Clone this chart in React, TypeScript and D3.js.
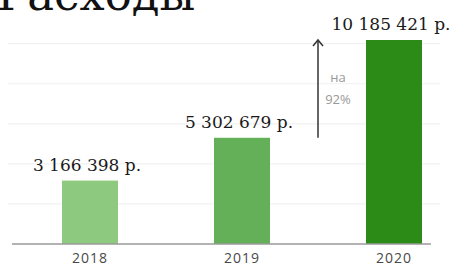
import React from "react";
import * as d3 from "d3";

const years = ["2018", "2019", "2020"];
const values = [3166398, 5302679, 10185421];
const valueLabels = ["3 166 398 р.", "5 302 679 р.", "10 185 421 р."];
const barColors = ["#8dca7f", "#63b058", "#2c8b17"];
const gridTicks = [2000000, 4000000, 6000000, 8000000, 10000000];
const title = "Расходы";
const growthLines = ["на", "92%"];

export default function App() {
  const W = 456, H = 266;
  const x = d3.scalePoint<string>().domain(years).range([90, 394]);
  const y = d3.scaleLinear().domain([0, 10185421]).range([244, 40]);
  const bw = 56;
  const arrowX = 318;
  return (
    <svg width={W} height={H} style={{ position: "absolute", left: 0, top: 0, background: "#fff" }}>
      <text x={-3} y={10} fontFamily="DejaVu Serif" fontSize={45} fill="#111">{title}</text>
      {gridTicks.map((t) => (
        <line key={t} x1={8} x2={440} y1={y(t)} y2={y(t)} stroke="#f1f1f1" strokeWidth={1.2} />
      ))}
      {years.map((yr, i) => (
        <g key={yr}>
          <rect x={(x(yr) as number) - bw / 2} y={y(values[i])} width={bw} height={y(0) - y(values[i])} fill={barColors[i]} />
          <text x={(x(yr) as number) - 3} y={y(values[i]) - 10} textAnchor="middle" fontFamily="DejaVu Serif" fontSize={17} fill="#1a1a1a">{valueLabels[i]}</text>
          <text x={x(yr) as number} y={263} textAnchor="middle" fontFamily="Open Sans" fontSize={14} letterSpacing={1} fill="#4a4a4a">{yr}</text>
        </g>
      ))}
      <line x1={12} x2={431} y1={y(0)} y2={y(0)} stroke="#9a9a9a" strokeWidth={1.5} />
      <line x1={arrowX} x2={arrowX} y1={y(values[1])} y2={y(values[2])} stroke="#333" strokeWidth={1.5} />
      <polyline points={`${arrowX - 5},${y(values[2]) + 6} ${arrowX},${y(values[2])} ${arrowX + 5},${y(values[2]) + 6}`} fill="none" stroke="#333" strokeWidth={1.5} />
      {growthLines.map((t, i) => (
        <text key={t} x={338} y={82 + i * 22} textAnchor="middle" fontFamily="Open Sans" fontSize={13} fill="#999">{t}</text>
      ))}
    </svg>
  );
}
